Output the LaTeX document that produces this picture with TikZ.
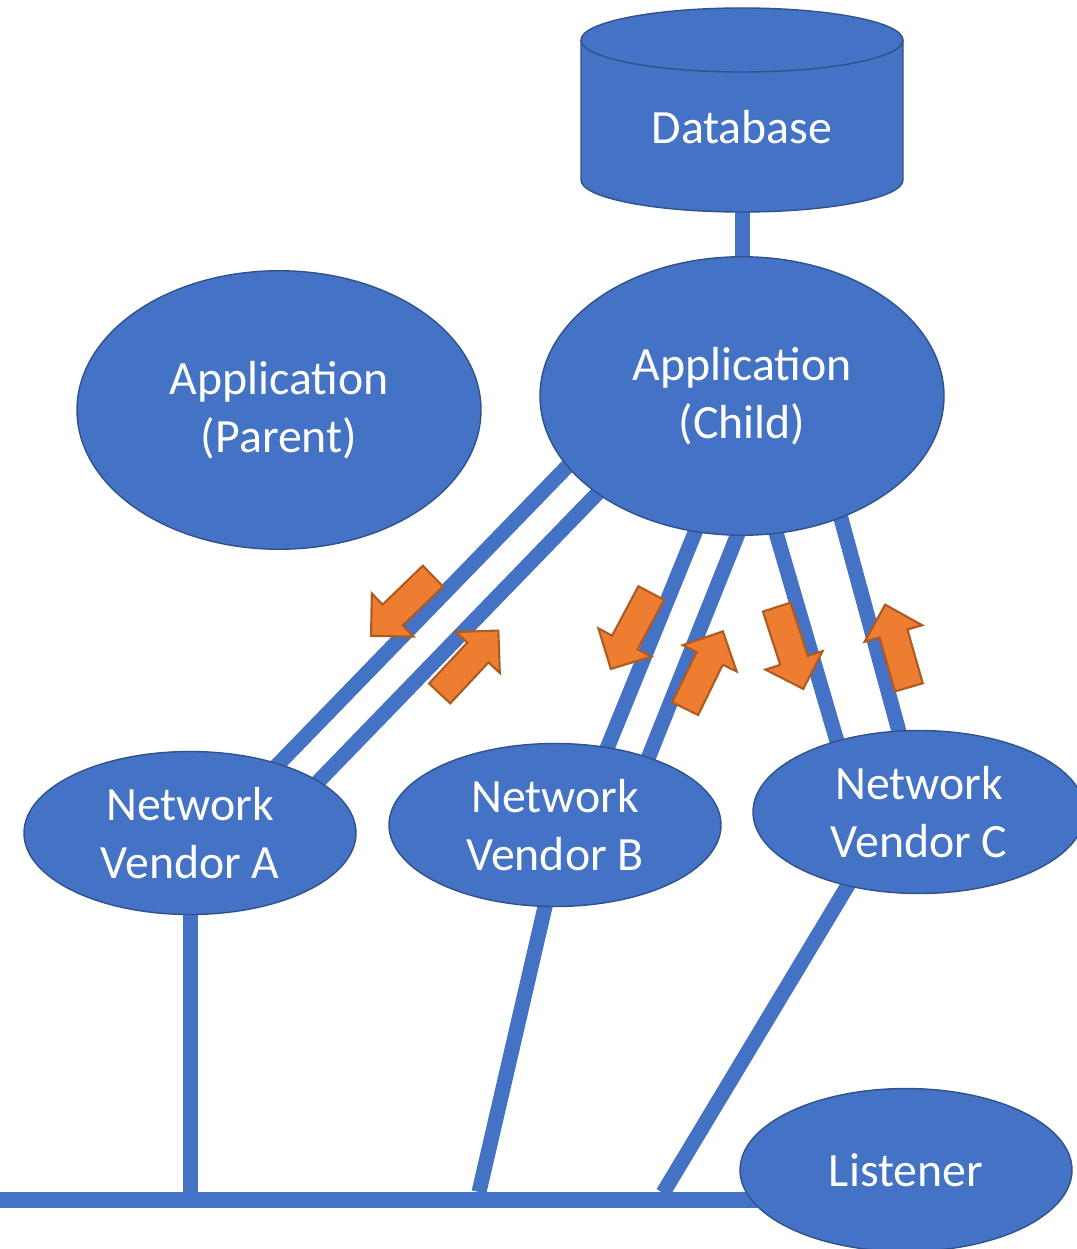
\documentclass[tikz,border=0pt]{standalone}
\usepackage{fontspec}
\setmainfont{Carlito}
\usepackage{tikz}
\usetikzlibrary{shapes,backgrounds,calc}

\definecolor{boxblue}{HTML}{4472C4}
\definecolor{edgeblue}{HTML}{2F528F}
\definecolor{flowfill}{HTML}{ED7D31}
\definecolor{flowedge}{HTML}{AE5A21}

\tikzset{
    unit/.style={ellipse, fill=boxblue, draw=edgeblue, line width=0.8pt, text=white,
        align=center, inner sep=0pt, font=\fontsize{27.2}{33}\selectfont},
    app/.style={unit, minimum width=8.08cm, minimum height=5.57cm},
    vendor/.style={unit, minimum width=6.64cm, minimum height=3.26cm},
    link/.style={draw=boxblue, line width=0.3cm, shorten <=-0.15cm, shorten >=-0.15cm},
    flow/.style={fill=flowfill, draw=flowedge, line width=1.2pt},
}

\begin{document}
\begin{tikzpicture}[x=0.2mm, y=-0.2mm]
    \useasboundingbox (0,0) rectangle (1076,1249);

    % Database cylinder
    \draw[fill=boxblue, draw=edgeblue, line width=0.8pt] (581,40) -- (581,180)
        arc[start angle=180, end angle=360, x radius=3.22cm, y radius=0.64cm] -- (903,40)
        arc[start angle=0, end angle=180, x radius=3.22cm, y radius=0.64cm] -- cycle;
    \draw[edgeblue, line width=0.8pt] (581,40)
        arc[start angle=180, end angle=360, x radius=3.22cm, y radius=0.64cm];
    \node[text=white, font=\fontsize{27.2}{33}\selectfont] (db) at (742,127) {Database};
    \coordinate (dbbase) at (742,205);

    % Applications
    \node[app] (parent) at (279,410) {Application\\(Parent)};
    \node[app] (child) at (742,396) {Application\\(Child)};

    % Vendors and listener
    \node[vendor] (vendorA) at (190,833) {Network\\Vendor A};
    \node[vendor] (vendorB) at (555,825) {Network\\Vendor B};
    \node[vendor] (vendorC) at (919,812) {Network\\Vendor C};
    \node[vendor] (listener) at (906,1170) {Listener};

    % Bus taps
    \coordinate (busW) at (0,1200);
    \coordinate (tapB) at (479,1192);
    \coordinate (tapC) at (663,1193);

    \begin{scope}[on background layer]
        \draw[link] (dbbase) -- (child.north);
        \foreach \a/\b in {child.202/vendorA.38, child.214/vendorA.22,
                           child.251/vendorB.56, child.268/vendorB.36,
                           child.284/vendorC.139, child.309/vendorC.104}
            \draw[link] (\a) -- (\b);
        \draw[link, shorten >=0pt] (vendorA.south) -- (vendorA.south |- busW);
        \draw[link, shorten >=0pt] (vendorB.263) -- (tapB);
        \draw[link, shorten >=0pt] (vendorC.226) -- (tapC);
        \draw[draw=boxblue, line width=0.32cm] (busW) -- (busW -| listener);
    \end{scope}

    % Request / reply arrows
    \foreach \x/\y/\r in {402/606/224, 469/662/47, 631/631/242,
                          704/670/64, 790/648/288, 897/646/106}
        \draw[flow, shift={(\x,\y)}, rotate=\r] (-43,-14.5) -- (13,-14.5) -- (13,-30)
            -- (43,0) -- (13,30) -- (13,14.5) -- (-43,14.5) -- cycle;
\end{tikzpicture}
\end{document}
